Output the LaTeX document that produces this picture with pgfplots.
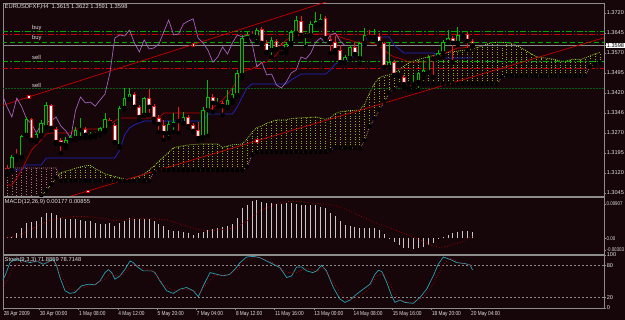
\documentclass[border=0pt]{standalone}
\usepackage{pgfplots}
\pgfplotsset{compat=1.18}
\usepackage{pgfplotstable}
\usepackage{fontspec}
\setmainfont{Liberation Sans}
\newfontfamily\narrowfont[FakeStretch=0.82]{Liberation Sans}

\definecolor{bg}{RGB}{22,5,9}
\definecolor{framec}{RGB}{140,140,140}
\definecolor{bullc}{RGB}{0,190,0}
\definecolor{bearc}{RGB}{235,30,30}
\definecolor{tenkan}{RGB}{190,0,0}
\definecolor{kijun}{RGB}{30,40,200}
\definecolor{chikou}{RGB}{160,100,190}
\definecolor{spanA}{RGB}{154,205,50}
\definecolor{spanAd}{RGB}{130,180,40}
\definecolor{spanB}{RGB}{175,115,135}
\definecolor{lvlgreen}{RGB}{0,170,0}
\definecolor{lvlred}{RGB}{200,0,0}
\definecolor{lvldark}{RGB}{0,95,25}
\definecolor{txt}{RGB}{225,225,225}
\definecolor{macdc}{RGB}{200,200,200}
\definecolor{stochc}{RGB}{40,160,180}

\pgfplotstableread{
i o h l c
0 1.3139 1.3150 1.3112 1.3128
1 1.3131 1.3188 1.3124 1.3180
2 1.3191 1.3210 1.3169 1.3184
3 1.3180 1.3263 1.3176 1.3259
4 1.3263 1.3330 1.3255 1.3323
5 1.3323 1.3326 1.3240 1.3244
6 1.3244 1.3274 1.3236 1.3266
7 1.3263 1.3319 1.3255 1.3308
8 1.3293 1.3386 1.3289 1.3375
9 1.3375 1.3379 1.3281 1.3289
10 1.3285 1.3293 1.3229 1.3236
11 1.3244 1.3251 1.3195 1.3229
12 1.3225 1.3255 1.3214 1.3244
13 1.3244 1.3263 1.3240 1.3255
14 1.3251 1.3293 1.3244 1.3281
15 1.3281 1.3326 1.3251 1.3289
16 1.3285 1.3293 1.3251 1.3263
17 1.3259 1.3274 1.3251 1.3266
18 1.3266 1.3274 1.3255 1.3263
19 1.3270 1.3293 1.3263 1.3289
20 1.3281 1.3345 1.3274 1.3323
21 1.3319 1.3326 1.3304 1.3308
22 1.3300 1.3308 1.3233 1.3236
23 1.3221 1.3371 1.3214 1.3364
24 1.3364 1.3439 1.3356 1.3401
25 1.3398 1.3439 1.3394 1.3416
26 1.3416 1.3424 1.3364 1.3368
27 1.3368 1.3375 1.3319 1.3330
28 1.3338 1.3405 1.3334 1.3401
29 1.3401 1.3435 1.3338 1.3368
30 1.3371 1.3379 1.3311 1.3323
31 1.3326 1.3338 1.3274 1.3304
32 1.3300 1.3319 1.3244 1.3270
33 1.3270 1.3315 1.3251 1.3304
34 1.3300 1.3345 1.3274 1.3311
35 1.3319 1.3368 1.3270 1.3315
36 1.3308 1.3349 1.3304 1.3330
37 1.3330 1.3338 1.3289 1.3296
38 1.3300 1.3308 1.3274 1.3278
39 1.3281 1.3311 1.3244 1.3251
40 1.3255 1.3368 1.3248 1.3356
41 1.3356 1.3469 1.3259 1.3405
42 1.3405 1.3416 1.3349 1.3383
43 1.3379 1.3401 1.3368 1.3386
44 1.3383 1.3390 1.3338 1.3371
45 1.3368 1.3431 1.3364 1.3394
46 1.3394 1.3439 1.3383 1.3416
47 1.3413 1.3506 1.3405 1.3495
48 1.3488 1.3638 1.3476 1.3626
49 1.3626 1.3649 1.3619 1.3638
50 1.3641 1.3653 1.3630 1.3634
51 1.3630 1.3664 1.3611 1.3656
52 1.3660 1.3668 1.3600 1.3608
53 1.3608 1.3619 1.3570 1.3574
54 1.3581 1.3630 1.3555 1.3619
55 1.3615 1.3623 1.3581 1.3585
56 1.3600 1.3608 1.3570 1.3589
57 1.3585 1.3611 1.3570 1.3604
58 1.3608 1.3656 1.3600 1.3649
59 1.3645 1.3709 1.3630 1.3694
60 1.3690 1.3709 1.3630 1.3638
61 1.3634 1.3645 1.3593 1.3641
62 1.3638 1.3690 1.3634 1.3679
63 1.3675 1.3724 1.3668 1.3690
64 1.3686 1.3716 1.3675 1.3698
65 1.3701 1.3709 1.3619 1.3626
66 1.3623 1.3634 1.3570 1.3608
67 1.3611 1.3634 1.3570 1.3581
68 1.3581 1.3600 1.3533 1.3536
69 1.3536 1.3563 1.3533 1.3555
70 1.3551 1.3600 1.3544 1.3593
71 1.3593 1.3608 1.3563 1.3566
72 1.3551 1.3611 1.3533 1.3608
73 1.3608 1.3664 1.3600 1.3638
74 1.3638 1.3656 1.3626 1.3630
75 1.3630 1.3660 1.3619 1.3638
76 1.3634 1.3645 1.3600 1.3608
77 1.3608 1.3611 1.3514 1.3518
78 1.3518 1.3611 1.3514 1.3536
79 1.3536 1.3544 1.3484 1.3488
80 1.3488 1.3499 1.3484 1.3491
81 1.3480 1.3488 1.3439 1.3450
82 1.3454 1.3461 1.3431 1.3439
83 1.3443 1.3488 1.3431 1.3461
84 1.3461 1.3499 1.3431 1.3495
85 1.3491 1.3544 1.3476 1.3506
86 1.3499 1.3563 1.3495 1.3555
87 1.3555 1.3563 1.3480 1.3548
88 1.3555 1.3581 1.3551 1.3570
89 1.3570 1.3619 1.3555 1.3611
90 1.3611 1.3656 1.3608 1.3626
91 1.3626 1.3634 1.3536 1.3608
92 1.3608 1.3668 1.3600 1.3638
93 1.3638 1.3653 1.3630 1.3645
94 1.3641 1.3649 1.3581 1.3615
95 1.3615 1.3622 1.3591 1.3598
}\bars

\pgfplotstableread{
b p
0 1.3075
1 1.3075
2 1.3101
3 1.3131
4 1.3169
5 1.3206
6 1.3225
7 1.3244
8 1.3266
9 1.3270
13 1.3270
14 1.3285
19 1.3285
20 1.3293
21 1.3304
22 1.3315
23 1.3326
31 1.3326
32 1.3345
40 1.3345
41 1.3356
42 1.3364
43 1.3379
44 1.3394
45 1.3413
46 1.3439
47 1.3469
48 1.3499
49 1.3506
50 1.3510
51 1.3521
52 1.3533
53 1.3536
54 1.3551
55 1.3563
56 1.3600
57 1.3619
58 1.3630
59 1.3634
60 1.3638
61 1.3641
66 1.3641
67 1.3638
68 1.3630
69 1.3623
70 1.3619
71 1.3611
72 1.3611
73 1.3608
74 1.3608
75 1.3604
76 1.3596
77 1.3581
78 1.3566
79 1.3555
80 1.3551
81 1.3544
82 1.3536
86 1.3536
87 1.3544
88 1.3555
89 1.3563
90 1.3574
91 1.3581
92 1.3589
93 1.3589
94 1.3593
95 1.3593
}\tenkantab

\pgfplotstableread{
b p
0 1.3131
3 1.3131
4 1.3150
7 1.3150
8 1.3176
22 1.3176
23 1.3206
24 1.3263
25 1.3289
26 1.3300
27 1.3308
28 1.3315
40 1.3315
41 1.3341
46 1.3341
47 1.3368
48 1.3405
49 1.3439
50 1.3454
57 1.3454
58 1.3469
59 1.3480
60 1.3491
65 1.3491
66 1.3506
67 1.3529
68 1.3536
69 1.3536
70 1.3551
71 1.3559
72 1.3589
73 1.3619
74 1.3630
78 1.3630
79 1.3600
80 1.3585
81 1.3570
87 1.3570
88 1.3563
89 1.3551
95 1.3551
}\kijuntab

% Ichimoku cloud, one row per bar: a = Senkou A, s = Senkou B
\pgfplotstableread{
b a s
0 1.2994 1.3139
1 1.3000 1.3139
2 1.3006 1.3139
3 1.3013 1.3139
4 1.3019 1.3139
5 1.3025 1.3139
6 1.3031 1.3139
7 1.3036 1.3139
8 1.3054 1.3139
9 1.3078 1.3139
10 1.3101 1.3139
11 1.3121 1.3090
12 1.3127 1.3090
13 1.3132 1.3090
14 1.3138 1.3090
15 1.3143 1.3090
16 1.3147 1.3090
17 1.3149 1.3090
18 1.3136 1.3090
19 1.3128 1.3090
20 1.3117 1.3090
21 1.3111 1.3090
22 1.3107 1.3090
23 1.3102 1.3090
24 1.3097 1.3090
25 1.3097 1.3090
26 1.3103 1.3090
27 1.3108 1.3090
28 1.3116 1.3090
29 1.3131 1.3090
30 1.3146 1.3123
31 1.3164 1.3131
32 1.3181 1.3131
33 1.3198 1.3131
34 1.3215 1.3131
35 1.3219 1.3131
36 1.3222 1.3131
37 1.3225 1.3131
38 1.3227 1.3131
39 1.3228 1.3131
40 1.3229 1.3131
41 1.3229 1.3131
42 1.3229 1.3131
43 1.3229 1.3131
44 1.3216 1.3131
45 1.3221 1.3131
46 1.3226 1.3131
47 1.3227 1.3131
48 1.3229 1.3131
49 1.3248 1.3143
50 1.3273 1.3188
51 1.3291 1.3198
52 1.3296 1.3199
53 1.3307 1.3199
54 1.3313 1.3199
55 1.3319 1.3199
56 1.3319 1.3199
57 1.3319 1.3199
58 1.3324 1.3199
59 1.3326 1.3199
60 1.3327 1.3199
61 1.3328 1.3199
62 1.3329 1.3199
63 1.3330 1.3199
64 1.3326 1.3199
65 1.3321 1.3199
66 1.3328 1.3205
67 1.3343 1.3214
68 1.3350 1.3214
69 1.3352 1.3214
70 1.3354 1.3214
71 1.3355 1.3214
72 1.3356 1.3214
73 1.3378 1.3241
74 1.3421 1.3295
75 1.3456 1.3324
76 1.3478 1.3357
77 1.3484 1.3387
78 1.3488 1.3420
79 1.3494 1.3434
80 1.3507 1.3451
81 1.3521 1.3454
82 1.3533 1.3454
83 1.3540 1.3454
84 1.3546 1.3454
85 1.3551 1.3454
86 1.3556 1.3454
87 1.3561 1.3454
88 1.3565 1.3454
89 1.3570 1.3454
90 1.3572 1.3454
91 1.3575 1.3454
92 1.3577 1.3454
93 1.3580 1.3454
94 1.3582 1.3454
95 1.3585 1.3454
96 1.3591 1.3454
97 1.3596 1.3454
98 1.3604 1.3454
99 1.3609 1.3454
100 1.3610 1.3454
101 1.3610 1.3479
102 1.3609 1.3484
103 1.3606 1.3484
104 1.3598 1.3484
105 1.3589 1.3484
106 1.3578 1.3484
107 1.3567 1.3484
108 1.3557 1.3484
109 1.3553 1.3484
110 1.3551 1.3484
111 1.3548 1.3484
112 1.3545 1.3484
113 1.3539 1.3484
114 1.3539 1.3484
115 1.3545 1.3484
116 1.3547 1.3484
117 1.3545 1.3484
118 1.3552 1.3484
119 1.3559 1.3518
120 1.3567 1.3526
121 1.3572 1.3533
}\cloud

\pgfplotstableread{
i v
0 0.0003
1 0.0003
2 0.0014
3 0.0027
4 0.0040
5 0.0043
6 0.0047
7 0.0056
8 0.0067
9 0.0067
10 0.0061
11 0.0054
12 0.0052
13 0.0052
14 0.0050
15 0.0049
16 0.0047
17 0.0045
18 0.0041
19 0.0038
20 0.0038
21 0.0040
22 0.0034
23 0.0040
24 0.0047
25 0.0054
26 0.0052
27 0.0052
28 0.0050
29 0.0052
30 0.0045
31 0.0038
32 0.0032
33 0.0023
34 0.0020
35 0.0020
36 0.0016
37 0.0014
38 0.0008
39 0.0014
40 0.0018
41 0.0023
42 0.0025
43 0.0027
44 0.0029
45 0.0032
46 0.0038
47 0.0054
48 0.0079
49 0.0089
50 0.0098
51 0.0100
52 0.0097
53 0.0094
54 0.0094
55 0.0091
56 0.0091
57 0.0094
58 0.0094
59 0.0091
60 0.0089
61 0.0089
62 0.0089
63 0.0089
64 0.0082
65 0.0079
66 0.0067
67 0.0058
68 0.0047
69 0.0036
70 0.0032
71 0.0029
72 0.0027
73 0.0027
74 0.0027
75 0.0027
76 0.0023
77 0.0011
78 0.0001
79 -0.0008
80 -0.0017
81 -0.0024
82 -0.0026
83 -0.0028
84 -0.0026
85 -0.0022
86 -0.0017
87 -0.0013
88 -0.0001
89 0.0005
90 0.0009
91 0.0014
92 0.0018
93 0.0020
94 0.0020
95 0.0018
}\macdtab

\pgfplotstableread{
b v
0 0.0002
2.65 0.0009
5.37 0.0027
8.1 0.0045
10.8 0.0054
13.5 0.0058
16.3 0.0058
19 0.0054
21.7 0.0047
24.4 0.0049
27.1 0.0052
29.9 0.0052
32.6 0.0049
35.3 0.0038
38 0.0027
40.7 0.0020
43.5 0.0023
46.2 0.0027
48.9 0.0045
51.6 0.0072
54.4 0.0089
57.1 0.0097
59.8 0.0098
62.2 0.0093
64.6 0.0091
67.3 0.0085
70 0.0072
72.7 0.0056
75.4 0.0040
78.2 0.0027
80.9 0.0014
83.7 0.0000
86.4 -0.0017
88.4 -0.0024
90.4 -0.0019
92.5 -0.0010
95 0.0005
}\macdsig

\pgfplotstableread{
b v
-1.43 45
-0.41 60.6
0.61 85.6
1.63 91.8
3.33 88.7
4.69 85.6
6.05 88.7
7.41 82.5
8.77 88.7
9.45 91.8
10.13 79.3
10.81 57.5
11.84 32.5
12.86 27.5
13.88 29.4
15.24 41.9
16.6 45
17.96 43.7
18.98 51.2
20 66.8
20.68 72.4
21.36 66.8
22.04 54.3
23.06 60.6
24.08 73.1
25.1 88.7
25.78 85.6
26.8 76.2
27.82 70
29.52 70
30.2 66.8
31.22 51.2
32.58 32.5
33.94 27.5
35.3 35.6
36.66 38.7
38.03 32.5
39.05 21.2
40.07 41.9
41.43 66.8
42.79 63.7
44.15 60.6
45.51 63.7
46.53 73.1
47.55 85.6
48.91 96.2
50.27 97.4
51.63 94.9
52.99 88.7
54.35 82.5
55.71 76.2
57.07 57.5
58.09 60.6
59.11 77.5
60.13 77.5
61.15 70
62.4 66.8
63.2 70
64.2 80.6
65.2 70
66.6 38.7
67.96 16.8
68.98 10.6
70 15
71.36 26.2
72.72 35.6
74.09 45
75.1 63.7
75.8 71.2
76.5 68.7
77.5 48.1
78.5 23.1
79.2 10.6
80.2 15
81.2 10.6
82.9 8.7
84.3 20
85.65 35.6
87 60.6
88 82.5
89.05 96.2
90.4 91.8
91.8 85.6
93.5 83.7
94.5 81.2
95 71.9
}\stochmain

\pgfplotstableread{
b v
-1.43 29.4
-0.07 51.2
1.29 76.2
2.65 85.6
5.37 88.7
8.09 85.6
9.8 88.7
11.15 60.6
12.52 38.7
13.88 32.5
15.58 38.7
17.62 43.7
19.66 52.5
21.02 65
22.38 60.6
23.74 63.7
25.78 82.5
27.82 75
29.86 68.7
31.9 45
33.94 32.5
36.66 35.6
39.39 29.4
40.75 45
42.11 60.6
44.83 62.5
46.87 71.2
48.91 90
50.95 96.2
52.99 91.8
55.03 81.2
57.07 66.8
59.11 66.8
61.15 75
63.2 68.7
64.56 76.2
65.92 57.5
67.96 29.4
69.66 15
71.36 20
73.4 32.5
75.45 60.6
76.8 65
78.5 38.7
79.87 15
82.25 10.6
84.97 20
87 45
89.05 82.5
90.4 93.7
92.45 85.6
94.5 81.2
95 78.7
}\stochsig

\pgfplotsset{
  mtaxis/.style={
    scale only axis, anchor=south west, width=601pt,
    xmin=-0.816, xmax=121.84,
    axis line style={draw=framec, line width=0.8pt},
    ytick pos=right, yticklabel pos=right,
    tick align=outside, major tick length=2pt,
    tick style={draw=framec, line width=0.4pt},
    every tick label/.append style={font=\fontsize{5.6}{6}\selectfont, text=txt},
    yticklabel style={anchor=west, inner sep=0.6pt},
    /pgf/number format/assume math mode=true,
    scaled y ticks=false,
  },
  candle/.style={only marks, mark=none, forget plot},
  cloudbar/.style={only marks, mark=none, forget plot},
}

\begin{document}
\begin{tikzpicture}
\fill[bg] (0,0) rectangle (625pt,320pt);

% ---------------- main price panel ----------------
\begin{axis}[mtaxis, at={(3pt,124pt)}, height=193pt,
  ymin=1.30338, ymax=1.37576, xtick=\empty,
  ytick={1.3045,1.3120,1.3195,1.3270,1.3346,1.3420,1.3495,1.3570,1.3645,1.3720},
  yticklabel={\pgfmathprintnumber[fixed,fixed zerofill,precision=4]{\tick}},
  extra y ticks={1.3598}, extra y tick labels={1.3598},
  extra y tick style={yticklabel style={fill=white, text=black, inner sep=0.7pt}}]

% Ichimoku cloud: dotted vertical line in each bar between Senkou A and B
\addplot[cloudbar, restrict x to domain=-1:10.5,
  error bars/.cd, y dir=plus, y explicit, error mark=none,
  error bar style={draw=spanB, line width=0.6pt, dash pattern=on 1pt off 1.6pt}]
  table[x=b, y expr={min(\thisrow{a},\thisrow{s})}, y error expr={abs(\thisrow{a}-\thisrow{s})}] {\cloud};
\addplot[cloudbar, restrict x to domain=10.5:122,
  error bars/.cd, y dir=plus, y explicit, error mark=none,
  error bar style={draw=spanAd, line width=0.6pt, dash pattern=on 1pt off 1.6pt}]
  table[x=b, y expr={min(\thisrow{a},\thisrow{s})}, y error expr={abs(\thisrow{a}-\thisrow{s})}] {\cloud};
\addplot[spanA, line width=0.7pt, dash pattern=on 1pt off 1pt] table[x=b,y=a] {\cloud};
\addplot[spanB, line width=0.7pt, dash pattern=on 1pt off 1pt] table[x=b,y=s] {\cloud};

% horizontal levels
\addplot[lvlgreen, line width=0.6pt, dash pattern=on 6pt off 2pt on 1.5pt off 2pt] coordinates {(-1,1.3650) (123,1.3650)};
\addplot[lvlred, line width=0.6pt, dash pattern=on 6pt off 2pt on 1.5pt off 2pt] coordinates {(-1,1.3639) (123,1.3639)};
\addplot[lvlgreen, line width=0.6pt, dash pattern=on 5pt off 3pt] coordinates {(-1,1.3611) (123,1.3611)};
\addplot[lvlgreen, line width=0.6pt, dash pattern=on 6pt off 2pt on 1.5pt off 2pt] coordinates {(-1,1.3540) (123,1.3540)};
\addplot[lvlred, line width=0.6pt, dash pattern=on 6pt off 2pt on 1.5pt off 2pt] coordinates {(-1,1.3512) (123,1.3512)};
\addplot[lvldark, line width=0.8pt, dash pattern=on 2pt off 1pt] coordinates {(-1,1.3437) (123,1.3437)};
\addplot[framec, line width=0.5pt] coordinates {(-1,1.3598) (123,1.3598)};

% trend lines
\addplot[lvlred, line width=0.7pt] coordinates {(-1,1.3373) (70,1.3790)};
\addplot[lvlred, line width=0.7pt] coordinates {(10,1.3017) (122,1.3628)};

% Ichimoku lines
\addplot[kijun, line width=0.7pt] table[x=b,y=p] {\kijuntab};
\addplot[tenkan, line width=0.7pt] table[x=b,y=p] {\tenkantab};
\addplot[chikou, line width=0.7pt] table[x expr=\thisrow{i}-26, y=c] {\bars};

% candles: bull
\addplot[candle, restrict expr to domain={\thisrow{c}-\thisrow{o}}{0:1},
  error bars/.cd, y dir=plus, y explicit, error mark=none,
  error bar style={draw=bullc, line width=0.8pt, solid}]
  table[x=i, y=l, y error expr=\thisrow{h}-\thisrow{l}] {\bars};
\addplot[candle, restrict expr to domain={\thisrow{c}-\thisrow{o}}{0:1},
  error bars/.cd, y dir=plus, y explicit, error mark=none,
  error bar style={draw=bullc, line width=3.6pt, solid}]
  table[x=i, y=o, y error expr=\thisrow{c}-\thisrow{o}] {\bars};
\addplot[candle, restrict expr to domain={\thisrow{c}-\thisrow{o}}{0:1},
  error bars/.cd, y dir=plus, y explicit, error mark=none,
  error bar style={draw=bg, line width=1.8pt, solid, shorten <=0.9pt, shorten >=0.9pt}]
  table[x=i, y=o, y error expr=\thisrow{c}-\thisrow{o}] {\bars};
% candles: bear
\addplot[candle, restrict expr to domain={\thisrow{c}-\thisrow{o}}{-1:0},
  error bars/.cd, y dir=plus, y explicit, error mark=none,
  error bar style={draw=bearc, line width=0.8pt, solid}]
  table[x=i, y=l, y error expr=\thisrow{h}-\thisrow{l}] {\bars};
\addplot[candle, restrict expr to domain={\thisrow{c}-\thisrow{o}}{-1:0},
  error bars/.cd, y dir=plus, y explicit, error mark=none,
  error bar style={draw=bearc, line width=3.6pt, solid}]
  table[x=i, y=c, y error expr=\thisrow{o}-\thisrow{c}] {\bars};
\addplot[candle, restrict expr to domain={\thisrow{c}-\thisrow{o}}{-1:0},
  error bars/.cd, y dir=plus, y explicit, error mark=none,
  error bar style={draw=white, line width=1.8pt, solid, shorten <=0.9pt, shorten >=0.9pt}]
  table[x=i, y=c, y error expr=\thisrow{o}-\thisrow{c}] {\bars};

% trend line anchors
\addplot[only marks, mark=square*, mark size=1.3pt, mark options={fill=white, draw=lvlred, line width=0.5pt}]
  coordinates {(4.5,1.3405) (38,1.3602) (16.5,1.3052) (51,1.3241)};

% level labels
\begin{scope}[every node/.style={anchor=south west, inner sep=0pt, text=txt, font=\fontsize{5.8}{6}\selectfont}]
\node at (axis cs:5.1,1.3653) {buy};
\node at (axis cs:5.1,1.3614) {buy};
\node at (axis cs:5.1,1.3543) {sell};
\node at (axis cs:5.1,1.3440) {sell};
\end{scope}
\node[anchor=north west, inner sep=0pt, text=txt, font=\fontsize{5.8}{6}\selectfont] at ([xshift=1.5pt,yshift=-1.5pt]rel axis cs:0,1) {EURUSDFXF,H4\ \ 1.3615 1.3622 1.3591 1.3598};
\end{axis}

% ---------------- MACD panel ----------------
\begin{axis}[mtaxis, at={(3pt,66pt)}, height=57pt,
  ymin=-0.00408, ymax=0.01091, xtick=\empty,
  ytick={-0.00303,0,0.00907}, yticklabels={-0.00303,0.00,0.00907},
  yticklabel style={font=\narrowfont\fontsize{5.4}{6}\selectfont, inner sep=0.4pt}]
\addplot[ycomb, draw=macdc, line width=0.9pt] table[x=i,y=v] {\macdtab};
\addplot[tenkan, dotted, line width=0.7pt] table[x=b,y=v] {\macdsig};
\node[anchor=north west, inner sep=0pt, text=txt, font=\fontsize{5.8}{6}\selectfont] at ([xshift=1.5pt,yshift=-2pt]rel axis cs:0,1) {MACD(12,26,9) 0.00177 0.00855};
\end{axis}

% ---------------- Stochastic panel ----------------
\begin{axis}[mtaxis, at={(3pt,12pt)}, height=53pt,
  ymin=0, ymax=100, ytick={0,20,80,100},
  xtick={-0.8,6.6,14.6,22.6,30.6,38.6,46.6,54.6,62.6,70.6,78.6,86.6,94.6},
  xticklabels={28 Apr 2009,30 Apr 00:00,1 May 08:00,4 May 12:00,5 May 20:00,7 May 04:00,8 May 12:00,11 May 16:00,13 May 00:00,14 May 08:00,15 May 16:00,18 May 20:00,20 May 04:00},
  xtick pos=bottom,
  xticklabel style={anchor=north west, inner sep=0pt, xshift=0.5pt, yshift=-1pt, font=\narrowfont\fontsize{5.8}{6}\selectfont}]
\addplot[framec, line width=0.4pt, dash pattern=on 2pt off 2pt] coordinates {(-1,20) (123,20)};
\addplot[framec, line width=0.4pt, dash pattern=on 2pt off 2pt] coordinates {(-1,80) (123,80)};
\addplot[stochc, line width=0.7pt] table[x=b,y=v] {\stochmain};
\addplot[tenkan, dotted, line width=0.7pt] table[x=b,y=v] {\stochsig};
\node[anchor=north west, inner sep=0pt, text=txt, font=\fontsize{5.8}{6}\selectfont] at ([xshift=1.5pt,yshift=-2pt]rel axis cs:0,1) {Stoch(9,3,3) 71.8859 78.7148};
\end{axis}
\pgfresetboundingbox
\path[use as bounding box] (0,0) rectangle (625pt,320pt);
\end{tikzpicture}
\end{document}
